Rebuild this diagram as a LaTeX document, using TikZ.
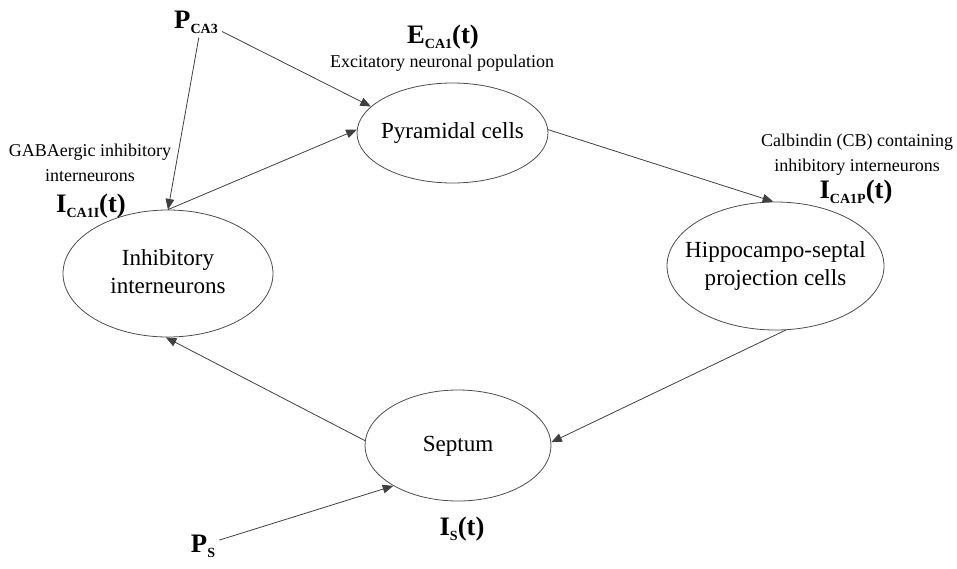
\documentclass[tikz,border=0pt]{standalone}
\usepackage{fontspec}
\setmainfont{Liberation Serif}
\usetikzlibrary{shapes.geometric,arrows.meta}
% bold subscript set lower and smaller than the symbol it follows
\newcommand\lowsub[1]{\raisebox{-4pt}{\fontsize{10.5}{10.5}\selectfont\bfseries #1}}
% centred lines in a zero-width box, so the ellipse size is set only by its minimum size
\newcommand\celltext[1]{\makebox[0pt]{\raisebox{-2pt}{\begin{tabular}{@{}c@{}}#1\end{tabular}}}}
\begin{document}
\begin{tikzpicture}[x=0.75pt,y=-0.75pt,
  cell/.style={ellipse,draw=black!70,line width=0.6pt,inner sep=0pt,
    font=\fontsize{17.3}{21}\selectfont},
  note/.style={align=center,inner sep=0pt,font=\fontsize{13.5}{18.75}\selectfont},
  sym/.style={inner sep=3pt,font=\fontsize{20}{24}\selectfont\bfseries},
  link/.style={draw=black!75,line width=0.6pt,-{Triangle[length=8pt,width=6.5pt]}}]
\useasboundingbox (0,0) rectangle (957,568);

% populations
\node[cell,minimum width=143.25pt,minimum height=75pt] (pyr) at (452.5,133) {\celltext{Pyramidal cells}};
\node[cell,minimum width=157.5pt,minimum height=95.25pt] (inh) at (168,273.5) {\celltext{Inhibitory\\interneurons}};
\node[cell,minimum width=162.75pt,minimum height=96pt] (hip) at (775.5,266) {\celltext{Hippocampo-septal\\projection cells}};
\node[cell,minimum width=139.5pt,minimum height=83.25pt] (sep) at (458,445.5) {\celltext{Septum}};

% variables and descriptions
\node[sym,anchor=base] (eca) at (443,43) {E\lowsub{CA1}(t)};
\node[note,anchor=base] (exc) at (442,67) {Excitatory neuronal population};
\node[note] (gaba) at (90,163) {GABAergic inhibitory\\interneurons};
\node[sym,anchor=base] (ica1i) at (91,212) {I\lowsub{CA1I}(t)};
\node[note] (calb) at (857,155) {Calbindin (CB) containing\\inhibitory interneurons};
\node[sym,anchor=base] (ica1p) at (856,198) {I\lowsub{CA1P}(t)};
\node[sym,anchor=base] (is) at (462,535) {I\lowsub{S}(t)};
\node[sym,anchor=base] (pca3) at (196,28) {P\lowsub{CA3}};
\node[sym,anchor=base] (ps) at (203,552) {P\lowsub{S}};

% connections
\draw[link] (pca3.-20) -- (pyr.162.5);
\draw[link] (pca3.-80) -- (inh.north);
\draw[link] (inh.north) -- (pyr.178);
\draw[link] (pyr.2) -- (hip.92);
\draw[link] (hip.-81) -- (sep.2);
\draw[link] (sep.177) -- (inh.-92);
\draw[link] (ps.20) -- (sep.-148);
\end{tikzpicture}
\end{document}
